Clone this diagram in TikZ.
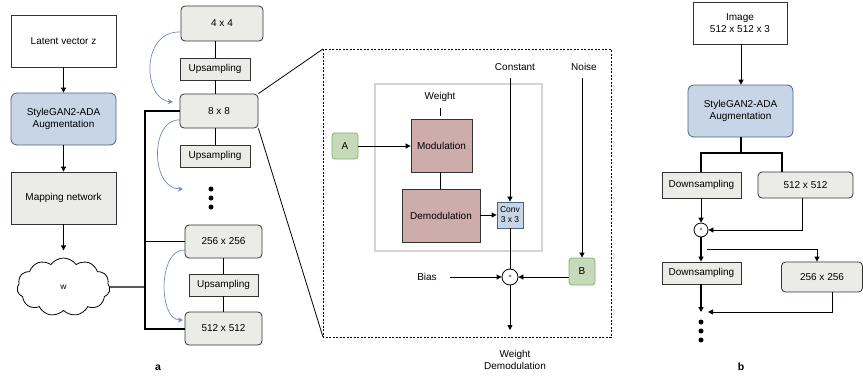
\documentclass[tikz,border=0pt]{standalone}
\usepackage{fontspec}
\setmainfont{Liberation Sans}
\usetikzlibrary{arrows.meta,shapes.symbols}
\definecolor{bfill}{HTML}{C7D5E6}
\definecolor{bdraw}{HTML}{6C8EBF}
\definecolor{gfill}{HTML}{EBEBE8}
\definecolor{rfill}{HTML}{CDACA9}
\definecolor{grfill}{HTML}{C6D9B8}
\definecolor{grdraw}{HTML}{82B366}
\definecolor{curv}{HTML}{6C8EBF}
\definecolor{frame}{HTML}{D3D6D0}
\tikzset{
  box/.style={draw=black!80, line width=0.8pt, inner sep=1pt, align=center, font=\fontsize{10}{12}\selectfont},
  plain/.style={box, fill=white},
  blue/.style={box, fill=bfill, draw=bdraw!70!black, rounded corners=6pt},
  grey/.style={box, fill=gfill},
  greyr/.style={box, fill=gfill, rounded corners=4pt},
  brown/.style={box, fill=rfill},
  green/.style={box, fill=grfill, draw=grdraw, rounded corners=3pt},
  lab/.style={font=\fontsize{10}{12}\selectfont, align=center, inner sep=0pt},
  arr/.style={-{Triangle[length=5pt,width=5pt]}, line width=0.8pt},
  bus/.style={line width=1.8pt},
  carr/.style={-{Stealth[length=5pt,width=5pt]}, draw=curv, line width=0.7pt},
  plus/.style={circle, draw=black, line width=0.8pt, fill=white, inner sep=0pt, font=\fontsize{6}{6}\selectfont},
  dot/.style={circle, fill=black, inner sep=0pt, minimum size=5pt},
}
\begin{document}
\begin{tikzpicture}[x=1pt,y=-1pt]
\useasboundingbox (0,0) rectangle (863,376);
% ---------- part a ----------
\node[plain, minimum width=105pt, minimum height=52pt] (lat) at (63.5,41) {Latent vector z};
\node[blue, minimum width=105pt, minimum height=52pt] (sg) at (63.5,119) {StyleGAN2-ADA\\Augmentation};
\node[grey, minimum width=105pt, minimum height=52pt] (map) at (63.5,198) {Mapping network};
\node[cloud, cloud puffs=11, cloud puff arc=110, aspect=1.6, draw=black, line width=0.8pt, fill=white, minimum width=93pt, minimum height=58pt, inner sep=0pt, font=\fontsize{8.5}{9}\selectfont] (w) at (63.5,287) {w};
\draw[arr] (lat) -- (sg);
\draw[arr] (sg) -- (map);
\draw[arr] (map.south) -- ++(0,26) coordinate (wtop);

\node[greyr, minimum width=82pt, minimum height=35pt] (b4) at (222,23.5) {4 x 4};
\node[grey, minimum width=70pt, minimum height=22pt] (up1) at (215,69) {Upsampling};
\node[greyr, minimum width=78pt, minimum height=34pt] (b8) at (219,111) {8 x 8};
\node[grey, minimum width=70pt, minimum height=22pt] (up2) at (215,156) {Upsampling};
\node[dot] (d1) at (211,189) {};
\node[dot] (d2) at (211,198) {};
\node[dot] (d3) at (211,207) {};
\node[greyr, minimum width=77pt, minimum height=33pt] (b256) at (223.5,241.5) {256 x 256};
\node[grey, minimum width=69pt, minimum height=22pt] (up3) at (223.5,285) {Upsampling};
\node[greyr, minimum width=77pt, minimum height=33pt] (b512) at (223.5,328.5) {512 x 512};

\draw[line width=0.8pt] (b4.south -| up1) -- (up1.north);
\draw[line width=0.8pt] (up1.south) -- (b8.north -| up1);
\draw[line width=0.8pt] (b8.south -| up2) -- (up2.north);
\draw[line width=0.8pt] (b256.south) -- (up3.north);
\draw[line width=0.8pt] (up3.south) -- (b512.north);

\coordinate (bt) at (145,111);
\coordinate (bm) at (145,287);
\coordinate (bb) at (145,329);
\draw[line width=1.3pt] (w.east) -- (bm);
\draw[bus] (b8.west |- bt) -- (bt) -- (bb) -- (b512.west |- bb);
\draw[bus] (145,241.5) -- (b256.west);

\coordinate (c1) at (173,102);
\coordinate (c2) at (183,189);
\coordinate (c3) at (183,320);
\draw[carr] (181,32) .. controls (140,30) and (143,100) .. (c1);
\draw[carr] (180,120) .. controls (150,118) and (150,189) .. (c2);
\draw[carr] (185,250) .. controls (158,248) and (158,320) .. (c3);

\node[font=\bfseries\fontsize{10.5}{12}\selectfont] (la) at (158,368) {a};

% ---------- zoom box ----------
\coordinate (dtl) at (323,49);
\coordinate (dbr) at (611,337);
\coordinate (dbl) at (323,337);
\draw[dashed, line width=0.6pt, dash pattern=on 2pt off 1.5pt] (dtl) rectangle (dbr);
\draw[line width=0.8pt] (b8.north east) -- (dtl);
\draw[line width=0.8pt] (b8.south east) -- (dbl);
\draw[draw=frame, line width=1.6pt] (375,84) rectangle (542,251);

\node[brown, minimum width=61pt, minimum height=53pt] (mod) at (441.5,145.5) {Modulation};
\node[brown, minimum width=78pt, minimum height=53pt] (demod) at (441,215.5) {Demodulation};
\node[lab] (wt) at (440,97) {Weight};
\draw[line width=0.8pt] (440,108) -- (440,116);
\node[green, minimum width=26pt, minimum height=26pt] (A) at (345,146) {A};
\node[box, fill=bfill, draw=bdraw!70!black, minimum width=26pt, minimum height=26pt, inner sep=0pt, font=\fontsize{8.5}{10}\selectfont] (conv) at (510,215) {Conv\\3 x 3};
\node[green, minimum width=26pt, minimum height=27pt] (B) at (582,271.5) {B};
\node[plus, minimum size=16pt] (p) at (510,277) {+};
\node[lab] (const) at (515,67) {Constant};
\node[lab] (noise) at (584,67) {Noise};
\node[lab] (bias) at (427,277) {Bias};
\node[lab] (wd) at (515,360) {Weight\\Demodulation};

\draw[arr] (A) -- (mod.west |- A);
\draw[line width=0.8pt] (mod.south -| 440,0) -- (demod.north -| 440,0);
\draw[arr] (demod.east |- conv) -- (conv.west);
\coordinate (cst) at (510,78);
\coordinate (nst) at (582,78);
\draw[arr] (cst) -- (conv.north);
\draw[arr] (nst) -- (B.north);
\draw[line width=0.8pt] (conv.south) -- (p.north);
\coordinate (bst) at (450,277);
\draw[arr] (bst) -- (p.west);
\draw[arr] (B.west |- p) -- (p.east);
\coordinate (pend) at (510,330);
\draw[arr] (p.south) -- (pend);

% ---------- part b ----------
\node[plain, minimum width=94pt, minimum height=42pt] (img) at (740,23) {Image\\512 x 512 x 3};
\node[blue, minimum width=105pt, minimum height=52pt] (sg2) at (740.5,111) {StyleGAN2-ADA\\Augmentation};
\node[grey, minimum width=79pt, minimum height=26pt] (ds1) at (701.5,185) {Downsampling};
\node[greyr, minimum width=95pt, minimum height=26pt] (r512) at (805.5,185) {512 x 512};
\node[plus, minimum size=14pt] (p2) at (701,230) {+};
\node[grey, minimum width=79pt, minimum height=22pt] (ds2) at (701.5,273) {Downsampling};
\node[greyr, minimum width=81pt, minimum height=30pt] (r256) at (822,277) {256 x 256};
\node[dot] (e1) at (701,322) {};
\node[dot] (e2) at (701,331) {};
\node[dot] (e3) at (701,340) {};
\node[font=\bfseries\fontsize{10.5}{12}\selectfont] (lb) at (741,367) {b};

\draw[arr] (img.south -| 741,0) -- (sg2.north -| 741,0);
\coordinate (sp) at (741,153);
\draw[line width=1.5pt] (sg2.south -| sp) -- (sp);
\draw[line width=1.5pt] (ds1.north -| 701,0) -- (701,153) -- (782,153) -- (r512.north -| 782,0);
\draw[arr] (ds1.south -| p2) -- (p2.north);
\draw[arr] (r512.south -| 802,0) -- (802,230) -- (p2.east);
\draw[arr, line width=1.3pt] (p2.south) -- (ds2.north -| p2);
\coordinate (br) at (707,249);
\draw[arr] (br) -- (817,249) -- (r256.north -| 817,0);
\coordinate (dsend) at (701,312);
\draw[arr, line width=1.3pt] (ds2.south -| p2) -- (dsend);
\coordinate (rend) at (708,312);
\draw[arr] (r256.south -| 832,0) -- (832,312) -- (rend);
\end{tikzpicture}
\end{document}
